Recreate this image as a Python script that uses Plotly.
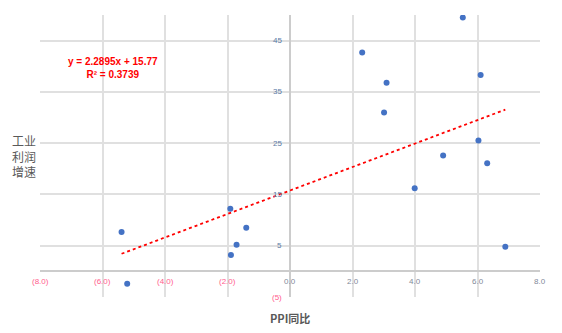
import plotly.graph_objects as go

# Data
ppi = [5.53, 2.31, 3.09, 6.10, 3.01, 6.03, 4.90, 6.31, 3.99, 6.89,
       -1.91, -1.40, -1.71, -1.89, -5.39, -5.21]
profit = [49.5, 42.7, 36.8, 38.3, 31.0, 25.5, 22.6, 21.1, 16.2, 4.8,
          12.2, 8.5, 5.2, 3.2, 7.7, -2.4]
slope = 2.2895
intercept = 15.77
r2 = 0.3739
x_ticks = [-8, -6, -4, -2, 0, 2, 4, 6, 8]
y_ticks = [-5, 5, 15, 25, 35, 45]

POS_X = "#7F8A99"
POS_Y = "#5B7BA6"
NEG = "#FF5C8D"
GRID = "#E0E0E0"

def fmt_x(v):
    return f"({abs(v):.1f})" if v < 0 else f"{v:.1f}"

def fmt_y(v):
    return f"({abs(v)})" if v < 0 else f"{v}"

fig = go.Figure()

x0, x1 = min(ppi), max(ppi)
fig.add_trace(go.Scatter(
    x=[x0, x1], y=[slope * x0 + intercept, slope * x1 + intercept],
    mode="lines", line=dict(color="#FF0000", width=1.8, dash="dot"),
    hoverinfo="skip", showlegend=False))

fig.add_trace(go.Scatter(
    x=ppi, y=profit, mode="markers",
    marker=dict(color="#4472C4", size=6),
    showlegend=False))

annotations = []
for v in x_ticks:
    annotations.append(dict(
        x=v, y=0, xref="x", yref="y", text=fmt_x(v), showarrow=False,
        xanchor="center", yanchor="top", yshift=-4,
        font=dict(size=8, color=NEG if v < 0 else POS_X)))
for v in y_ticks:
    annotations.append(dict(
        x=0, y=v, xref="x", yref="y", text=fmt_y(v), showarrow=False,
        xanchor="right", yanchor="middle", xshift=-6,
        font=dict(size=8, color=NEG if v < 0 else POS_Y)))

annotations.append(dict(
    x=0.146, y=0.812, xref="paper", yref="paper",
    text=f"<b>y = {slope}x + {intercept}<br>R² = {r2}</b>", showarrow=False,
    xanchor="center", yanchor="middle", align="center",
    font=dict(size=10, color="#FF0000", family="Liberation Sans")))
annotations.append(dict(
    x=-0.032, y=0.5, xref="paper", yref="paper",
    text="工业<br>利润<br>增速", showarrow=False,
    xanchor="center", yanchor="middle", align="center",
    font=dict(size=12, color="#595959", family="Noto Sans CJK SC")))
annotations.append(dict(
    x=0.5, y=-0.076, xref="paper", yref="paper",
    text="<b>PPI同比</b>", showarrow=False,
    xanchor="center", yanchor="middle",
    font=dict(size=11, color="#595959", family="Noto Sans CJK SC")))

fig.update_layout(
    width=562, height=333,
    margin=dict(l=40, r=22, t=15, b=36),
    paper_bgcolor="white", plot_bgcolor="white",
    font=dict(family="Liberation Sans"),
    annotations=annotations,
    xaxis=dict(range=[-8, 8], tickvals=x_ticks, showticklabels=False,
               showgrid=True, gridcolor=GRID, gridwidth=1.5,
               zeroline=True, zerolinecolor="#CCCCCC", zerolinewidth=1.5,
               showline=False, fixedrange=True),
    yaxis=dict(range=[-5, 50], tickvals=y_ticks, showticklabels=False,
               showgrid=True, gridcolor=GRID, gridwidth=1.5,
               zeroline=True, zerolinecolor="#CCCCCC", zerolinewidth=1.5,
               showline=False, fixedrange=True),
)

fig.write_html("out.html")
